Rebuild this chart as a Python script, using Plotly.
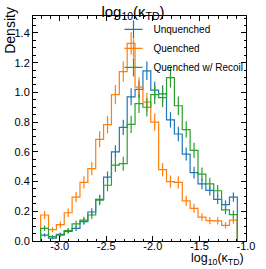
import numpy as np
import plotly.graph_objects as go

# ---- data ----
bin_lo, bin_hi, n_bins = -3.204, -1.093, 25
series_names = ["Unquenched", "Quenched", "Quenched w/ Recoil"]
unquenched = [0.04, 0.02, 0.045, 0.065, 0.085, 0.13, 0.195, 0.28, 0.43, 0.60,
              0.765, 0.97, 1.02, 1.145, 1.015, 0.99, 0.815, 0.72, 0.585, 0.46,
              0.385, 0.34, 0.28, 0.245, 0.295]
unquenched_err = [0.012, 0.008, 0.012, 0.015, 0.017, 0.021, 0.026, 0.031, 0.038, 0.045,
                  0.051, 0.057, 0.059, 0.062, 0.058, 0.058, 0.052, 0.049, 0.044, 0.039,
                  0.036, 0.034, 0.031, 0.028, 0.031]
quenched = [0.175, 0.077, 0.11, 0.19, 0.295, 0.395, 0.487, 0.684, 0.783, 0.985,
            1.14, 1.33, 1.035, 0.935, 0.80, 0.48, 0.40, 0.395, 0.27, 0.22,
            0.16, 0.137, 0.135, 0.105, 0.14]
quenched_err = [0.027, 0.018, 0.022, 0.028, 0.035, 0.041, 0.045, 0.054, 0.058, 0.065,
                0.069, 0.075, 0.066, 0.063, 0.058, 0.045, 0.041, 0.041, 0.034, 0.030,
                0.026, 0.024, 0.024, 0.021, 0.024]
recoil = [0.085, 0.03, 0.04, 0.07, 0.115, 0.14, 0.175, 0.275, 0.375, 0.51,
          0.52, 0.785, 0.925, 0.90, 0.985, 0.965, 1.10, 0.91, 0.75, 0.61,
          0.45, 0.385, 0.338, 0.21, 0.178]
recoil_err = [0.019, 0.011, 0.013, 0.017, 0.022, 0.024, 0.027, 0.034, 0.040, 0.046,
              0.047, 0.058, 0.063, 0.062, 0.064, 0.064, 0.068, 0.062, 0.056, 0.051,
              0.044, 0.040, 0.038, 0.030, 0.028]
x_tickvals = [-3.0, -2.5, -2.0, -1.5, -1.0]
x_ticktext = ["-3.0", "-2.5", "-2.0", "-1.5", "-1.0"]
y_tickvals = [0.0, 0.2, 0.4, 0.6, 0.8, 1.0, 1.2, 1.4]

colors = ["#1f77b4", "#ff7f0e", "#2ca02c"]
FONT = "Liberation Sans, Arial, Helvetica, sans-serif"

edges = np.linspace(bin_lo, bin_hi, n_bins + 1)
centers = 0.5 * (edges[:-1] + edges[1:])

fig = go.Figure()
for name, vals, errs, col in zip(series_names, [unquenched, quenched, recoil],
                                 [unquenched_err, quenched_err, recoil_err], colors):
    xs = [edges[0]] + list(edges)
    ys = [0.0] + list(vals) + [0.0]
    fig.add_trace(go.Scatter(x=xs, y=ys, mode="lines", line=dict(shape="hv", color=col, width=1.2),
                             showlegend=False, hoverinfo="skip"))
    fig.add_trace(go.Scatter(x=centers, y=vals, mode="markers",
                             marker=dict(size=1, color=col, opacity=0),
                             error_y=dict(type="data", array=errs, visible=True, color=col,
                                          thickness=1.2, width=0),
                             showlegend=False))
    fig.add_trace(go.Scatter(x=[None], y=[None], mode="markers", name=name,
                             marker=dict(symbol="cross-thin", size=13, color=col,
                                         line=dict(color=col, width=1.2))))

axis_common = dict(showline=True, linecolor="black", linewidth=1, mirror="allticks",
                   ticks="inside", ticklen=5, tickwidth=1, tickcolor="black",
                   showgrid=False, zeroline=False,
                   tickfont=dict(family=FONT, size=11, color="black"))
fig.update_xaxes(range=[-3.286, -1.0], tickvals=x_tickvals, ticktext=x_ticktext,
                 ticklabelstandoff=-5,
                 minor=dict(ticks="inside", ticklen=2.5, tickcolor="black", dtick=0.1, showgrid=False),
                 **axis_common)
fig.update_yaxes(range=[0, 1.514], tickvals=y_tickvals, tickformat=".1f",
                 minor=dict(ticks="inside", ticklen=2.5, tickcolor="black", dtick=0.05, showgrid=False),
                 **axis_common)

fig.update_layout(
    width=266, height=269,
    margin=dict(l=33, r=11, t=16, b=28, pad=0),
    paper_bgcolor="white", plot_bgcolor="white",
    font=dict(family=FONT, color="black"),
    title=dict(text="log<sub>10</sub>(κ<sub>TD</sub>)", x=0.5, xanchor="center",
               y=1 - 16.5 / 269, yanchor="bottom", font=dict(size=15, color="black")),
    legend=dict(x=0.378, y=1.005, xanchor="left", yanchor="top", bgcolor="rgba(0,0,0,0)",
                font=dict(size=10, family=FONT, color="black"), itemwidth=30),
    annotations=[
        dict(text="Density", xref="paper", yref="paper", x=-0.108, y=1.052,
             xanchor="center", yanchor="top", textangle=-90, showarrow=False,
             font=dict(size=14, family=FONT, color="black")),
        dict(text="log<sub>10</sub>(κ<sub>TD</sub>)", xref="paper", yref="paper", x=1.0, y=-0.035,
             xanchor="right", yanchor="top", showarrow=False,
             font=dict(size=12.5, family=FONT, color="black")),
    ],
)

fig.write_html("out.html", config={"displayModeBar": False},
               post_script="document.body.style.margin='0px';document.body.style.padding='0px';"
                           "document.documentElement.style.overflow='hidden';")
